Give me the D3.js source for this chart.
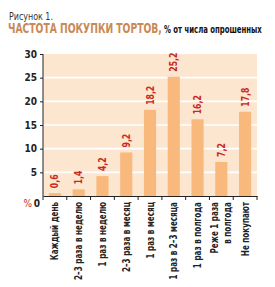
<!DOCTYPE html>
<html>
<head>
<meta charset="utf-8">
<script src="https://cdn.jsdelivr.net/npm/d3@7"></script>
<style>
  body { margin: 0; background: #fff; }
  text { font-family: "DejaVu Sans Condensed", "Liberation Sans", sans-serif; }
</style>
</head>
<body>
<div id="chart"></div>
<script>
// data
const categories = ["Каждый день", "2–3 раза в неделю", "1 раз в неделю", "2–3 раза в месяц",
  "1 раз в месяц", "1 раз в 2–3 месяца", "1 раз в полгода", "Реже 1 раза|в полгода", "Не покупают"];
const values = [0.6, 1.4, 4.2, 9.2, 18.2, 25.2, 16.2, 7.2, 17.8];
const yTicks = [5, 10, 15, 20, 25, 30];

const width = 275, height = 287;
const plotLeft = 43, plotRight = 257, plotTop = 54, plotBottom = 196;
const red = "#c62a22", barColor = "#f9b87c", bg = "#fde6cf";

const svg = d3.select("#chart").append("svg")
  .attr("width", width).attr("height", height);

// squeeze a text horizontally so it is w px long
function squeeze(node, x0, y0, w) {
  const len = node.getComputedTextLength();
  const k = Math.min(1, w / len);
  d3.select(node).attr("transform", `translate(${x0},${y0}) scale(${k},1)`);
}

// title
const t1 = svg.append("text").attr("font-size", 10.5).attr("fill", "#333").text("Рисунок 1.");
squeeze(t1.node(), 9, 19.5, 44);
const t2 = svg.append("text").attr("font-size", 13.5).attr("font-weight", "bold")
  .attr("fill", "#c98a55").text("ЧАСТОТА ПОКУПКИ ТОРТОВ,");
squeeze(t2.node(), 8, 33, 154);
const t3 = svg.append("text").attr("font-size", 10).attr("font-weight", "bold")
  .attr("fill", "#111").text("% от числа опрошенных");
squeeze(t3.node(), 164, 33, 98);

const x = d3.scaleBand().domain(categories).range([plotLeft, plotRight]).paddingInner(0.49).paddingOuter(0.245);
const xb = d3.scaleBand().domain(categories).range([plotLeft, plotRight]);
const y = d3.scaleLinear().domain([0, 30]).range([plotBottom, plotTop]);

svg.append("rect").attr("x", plotLeft).attr("y", plotTop)
  .attr("width", plotRight - plotLeft).attr("height", plotBottom - plotTop).attr("fill", bg);

// grid
svg.selectAll(".grid").data([5, 10, 15, 20, 25]).enter().append("line")
  .attr("x1", plotLeft).attr("x2", plotRight)
  .attr("y1", d => y(d)).attr("y2", d => y(d))
  .attr("stroke", "#fff").attr("stroke-width", 1.6);

// bars
svg.selectAll(".bar").data(values).enter().append("rect")
  .attr("x", (d, i) => x(categories[i]))
  .attr("width", x.bandwidth())
  .attr("y", d => y(d))
  .attr("height", d => plotBottom - y(d))
  .attr("fill", barColor);

// value labels
svg.selectAll(".val").data(values).enter().append("text")
  .attr("transform", (d, i) => `translate(${x(categories[i]) + x.bandwidth() / 2 + 3.5},${y(d) - 5}) rotate(-90) scale(0.82,1)`)
  .attr("font-size", 10.5).attr("font-weight", "bold").attr("fill", red)
  .text(d => String(d).replace(".", ","));

// y axis
const yAxis = d3.axisLeft(y).tickValues(yTicks).tickSize(3).tickPadding(3);
const gy = svg.append("g").attr("transform", `translate(${plotLeft},0)`).call(yAxis);
gy.select(".domain").attr("d", `M0,${plotTop}V${plotBottom}`).attr("stroke", "#222");
gy.selectAll("text").attr("font-size", 10).attr("font-weight", "bold").attr("fill", "#222")
  .attr("font-family", "'Liberation Sans', sans-serif");
gy.selectAll(".tick line").attr("stroke", "#222");
svg.append("text").attr("x", 40).attr("y", 207).attr("text-anchor", "end")
  .attr("font-size", 10).attr("font-weight", "bold").attr("fill", "#222")
  .attr("font-family", "'Liberation Sans', sans-serif").text("0");
svg.append("text").attr("x", 32).attr("y", 207).attr("text-anchor", "end")
  .attr("font-size", 10).attr("fill", red)
  .attr("font-family", "'Liberation Sans', sans-serif").text("%");

// x axis
const xAxis = d3.axisBottom(xb).tickSize(0).tickFormat("");
const gx = svg.append("g").attr("transform", `translate(0,${plotBottom})`).call(xAxis);
gx.select(".domain").attr("stroke", "#222");
svg.selectAll(".xt").data(d3.range(categories.length + 1)).enter().append("line")
  .attr("x1", i => plotLeft + i * xb.step()).attr("x2", i => plotLeft + i * xb.step())
  .attr("y1", plotBottom).attr("y2", plotBottom + 4).attr("stroke", "#222");

// category labels, all squeezed by one factor so the longest is 78 px
const labs = [];
categories.forEach((c, i) => {
  const lines = c.split("|");
  const cx = xb(c) + xb.bandwidth() / 2;
  lines.forEach((ln, j) => {
    const off = (j - (lines.length - 1) / 2) * 13;
    const el = svg.append("text")
      .attr("text-anchor", "end")
      .attr("font-size", 10.5).attr("font-weight", "bold").attr("fill", "#222")
      .text(ln);
    labs.push({ el, x: cx + off + 3.5 });
  });
});
const maxLen = d3.max(labs, d => d.el.node().getComputedTextLength());
const k = 78 / maxLen;
labs.forEach(d => d.el.attr("transform", `translate(${d.x},${plotBottom + 6}) rotate(-90) scale(${k},1)`));
</script>
</body>
</html>
